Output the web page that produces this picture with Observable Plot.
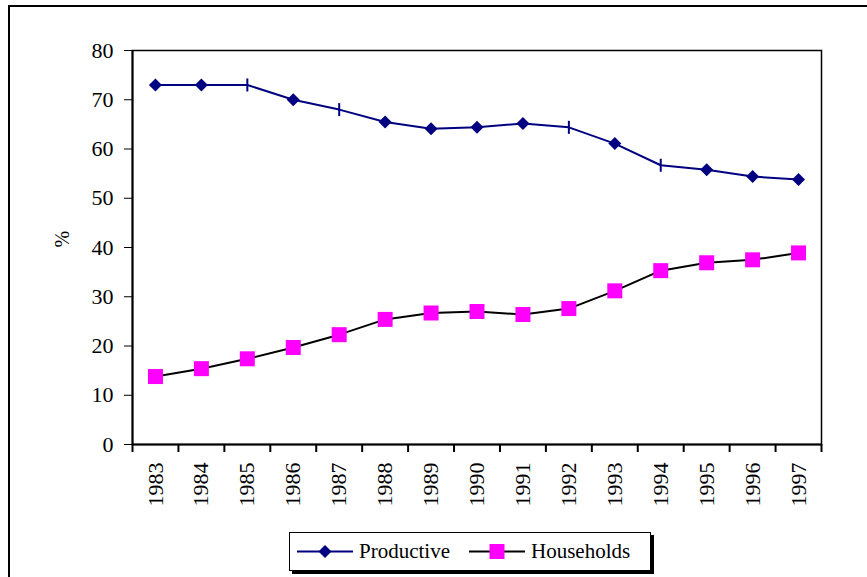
<!DOCTYPE html>
<html><head><meta charset="utf-8">
<script src="https://cdn.jsdelivr.net/npm/d3@7"></script>
<script src="https://cdn.jsdelivr.net/npm/@observablehq/plot@0.6"></script>
<style>
html,body{margin:0;padding:0;background:#fff;}
body{width:867px;height:577px;overflow:hidden;position:relative;font-family:"Liberation Serif","Times New Roman",Times,"DejaVu Serif",serif;}
#border{position:absolute;left:8px;top:5px;width:1000px;height:1000px;border:2px solid #000;}
#chart{position:absolute;left:0;top:0;}
#chart svg, #chart text{font-family:"Liberation Serif","Times New Roman",Times,"DejaVu Serif",serif !important;}
#legend{position:absolute;left:289px;top:532px;width:362px;height:39px;border:1.5px solid #000;box-shadow:3px 3px 0 #000;background:#fff;display:flex;align-items:center;font-size:21px;color:#000;box-sizing:border-box;padding-left:7px;}
#legend .item{display:flex;align-items:center;}
#legend .item + .item{margin-left:19px;}
#legend svg{margin-right:6px;}
</style></head><body>
<div id="border"></div>
<div id="chart"></div>
<div id="legend"></div>
<script>
const years = [1983,1984,1985,1986,1987,1988,1989,1990,1991,1992,1993,1994,1995,1996,1997];
const productive = [73,73,73,70,68,65.5,64.1,64.4,65.2,64.4,61.1,56.7,55.8,54.4,53.8];
const households = [13.8,15.4,17.4,19.7,22.3,25.4,26.7,27.0,26.4,27.6,31.2,35.3,36.9,37.5,38.9];
const yTicks = [0,10,20,30,40,50,60,70,80];
const seriesNames = ["Productive","Households"];
const productiveTickYears = [1985,1987,1992,1994];
const yLabel = "%";

const prodData = years.map((year,i)=>({year, value: productive[i]}));
const hhData = years.map((year,i)=>({year, value: households[i]}));
const boundaries = [...years.map(y=>y-0.5), years[years.length-1]+0.5];

const NAVY = "#000080", MAGENTA = "#ff00ff";
const FONT = "'Liberation Serif','Times New Roman',Times,'DejaVu Serif',serif";
const diamond = {draw(ctx){ctx.moveTo(0,-6.5);ctx.lineTo(6.5,0);ctx.lineTo(0,6.5);ctx.lineTo(-6.5,0);ctx.closePath();}};
const square = {draw(ctx){ctx.rect(-7.5,-7.5,15,15);}};
const vtick = {draw(ctx){ctx.moveTo(0,-6.5);ctx.lineTo(0,6.5);}};

const chart = Plot.plot({
  width: 867, height: 577,
  marginLeft: 132, marginRight: 46, marginTop: 50, marginBottom: 133,
  style: {fontFamily: FONT, fontSize: "22px", color: "#000", background: "transparent", overflow: "visible"},
  x: {type: "linear", domain: [years[0]-0.5, years[years.length-1]+0.5], ticks: years, tickFormat: d=>String(d), tickSize: 0, tickPadding: 18, tickRotate: -90, label: null},
  y: {domain: [yTicks[0], yTicks[yTicks.length-1]], ticks: yTicks, tickSize: 8, tickPadding: 11, label: null},
  marks: [
    Plot.frame({stroke: "#000", strokeWidth: 1.5}),
    Plot.ruleX([boundaries[0]], {stroke: "#000", strokeWidth: 2}),
    Plot.ruleY([0], {stroke: "#000", strokeWidth: 2}),
    Plot.ruleX(boundaries, {x: d=>d, y1: 0, y2: 0, insetBottom: -8, stroke: "#000", strokeWidth: 2}),
    Plot.text([yLabel], {text: d=>d, frameAnchor: "left", rotate: -90, dx: -70, fontSize: 20}),
    Plot.line(hhData, {x: "year", y: "value", stroke: "#000", strokeWidth: 2}),
    Plot.dot(hhData, {x: "year", y: "value", symbol: () => square, fill: MAGENTA, stroke: "none"}),
    Plot.line(prodData, {x: "year", y: "value", stroke: NAVY, strokeWidth: 2}),
    Plot.dot(prodData.filter(d=>!productiveTickYears.includes(d.year)), {x: "year", y: "value", symbol: () => diamond, fill: NAVY, stroke: "none"}),
    Plot.dot(prodData.filter(d=>productiveTickYears.includes(d.year)), {x: "year", y: "value", symbol: () => vtick, fill: "none", stroke: NAVY, strokeWidth: 2})
  ]
});
document.getElementById("chart").appendChild(chart);

// legend
const legend = document.getElementById("legend");
const legendStyles = [
  {line: NAVY, color: NAVY, shape: "diamond"},
  {line: "#000", color: MAGENTA, shape: "square"}
];
seriesNames.forEach((name, i) => {
  const st = legendStyles[i];
  const item = document.createElement("div");
  item.className = "item";
  const marker = st.shape === "diamond"
    ? `<path d="M28,1 L34.5,7.5 L28,14 L21.5,7.5Z" fill="${st.color}"/>`
    : `<rect x="20.5" y="0" width="15" height="15" fill="${st.color}"/>`;
  item.innerHTML = `<svg width="56" height="15"><line x1="0" y1="7.5" x2="56" y2="7.5" stroke="${st.line}" stroke-width="2"/>${marker}</svg><span>${name}</span>`;
  legend.appendChild(item);
});
</script>
</body></html>
